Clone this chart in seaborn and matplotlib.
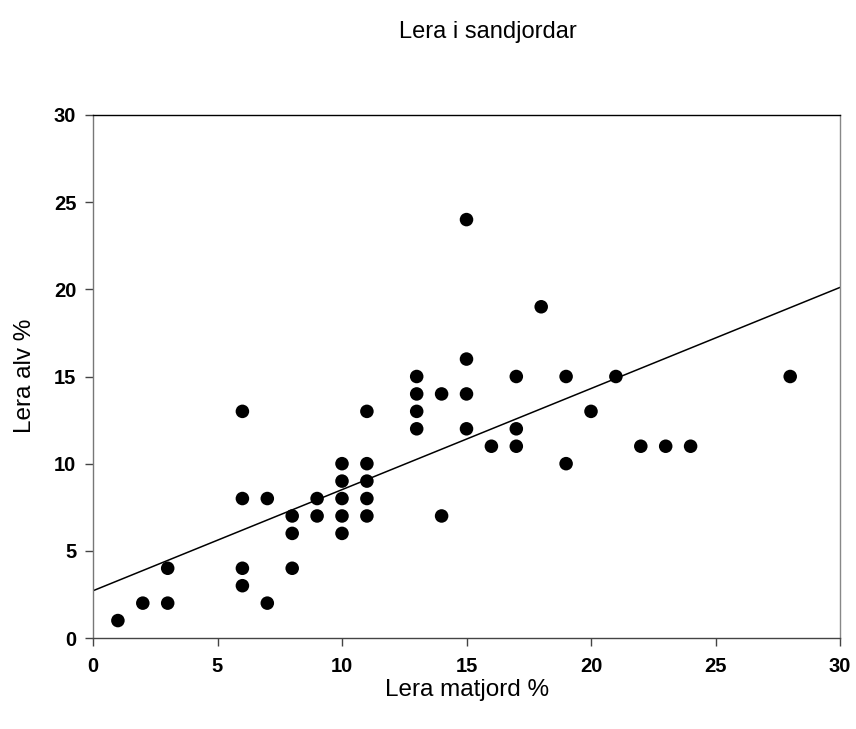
import numpy as np
import pandas as pd
import matplotlib
matplotlib.use("Agg")
import matplotlib.pyplot as plt
import seaborn as sns

# Clay content, topsoil (x) vs subsoil (y), percent
lera_matjord = [1, 2, 3, 3, 6, 6, 6, 6, 7, 7, 8, 8, 8, 9, 9,
                10, 10, 10, 10, 10, 11, 11, 11, 11, 11,
                13, 13, 13, 13, 14, 14, 15, 15, 15, 15, 16,
                17, 17, 17, 18, 19, 19, 20, 21, 22, 23, 24, 28]
lera_alv = [1, 2, 2, 4, 13, 8, 4, 3, 8, 2, 7, 6, 4, 8, 7,
            10, 9, 8, 7, 6, 13, 10, 9, 8, 7,
            15, 14, 13, 12, 14, 7, 24, 16, 14, 12, 11,
            15, 12, 11, 19, 15, 10, 13, 15, 11, 11, 11, 15]

# Fitted regression line: y = intercept + slope * x
intercept = 2.71
slope = 0.58

ticks = [0, 5, 10, 15, 20, 25, 30]

df = pd.DataFrame({"matjord": lera_matjord, "alv": lera_alv})

sns.set_theme(style="white")
plt.rcParams["font.family"] = ["Liberation Sans", "DejaVu Sans"]
plt.rcParams["text.color"] = "black"
plt.rcParams["xtick.color"] = "black"
plt.rcParams["ytick.color"] = "black"

fig = plt.figure(figsize=(8.56, 7.29), dpi=100)
ax = fig.add_axes([93 / 856, 1 - 638 / 729, (840 - 93) / 856, (638 - 115) / 729])

sns.scatterplot(data=df, x="matjord", y="alv", ax=ax, color="black",
                s=95, edgecolor="none", linewidth=0, zorder=3)

xl = np.array([0, 30])
ax.plot(xl, intercept + slope * xl, color="black", lw=1.1, zorder=2)

ax.set_xlim(0, 30)
ax.set_ylim(0, 30)
ax.set_xticks(ticks)
ax.set_yticks(ticks)
ax.set_xticklabels([str(t) for t in ticks], fontweight="bold", fontsize=14.5)
ax.set_yticklabels([str(t) for t in ticks], fontweight="bold", fontsize=14.5)
ax.tick_params(axis="both", direction="out", length=6, width=1.0,
               color="#444444", labelcolor="black", bottom=True, left=True)
ax.tick_params(axis="x", pad=8)
ax.tick_params(axis="y", pad=6)

ax.set_xlabel("")
ax.set_ylabel("")

for side, col in [("top", "black"), ("bottom", "#444444"),
                  ("left", "#777777"), ("right", "#888888")]:
    ax.spines[side].set_visible(True)
    ax.spines[side].set_color(col)
    ax.spines[side].set_linewidth(1.0)

fig.text(488 / 856, 1 - 32 / 729, "Lera i sandjordar", ha="center",
         va="center", fontsize=17, color="black")
fig.text(467 / 856, 1 - 690 / 729, "Lera matjord %", ha="center",
         va="center", fontsize=17.5, color="black")
fig.text(25 / 856, 1 - 376 / 729, "Lera alv %", ha="center",
         va="center", rotation=90, fontsize=17.5, color="black")

fig.savefig("out.png", dpi=100, facecolor="white")
